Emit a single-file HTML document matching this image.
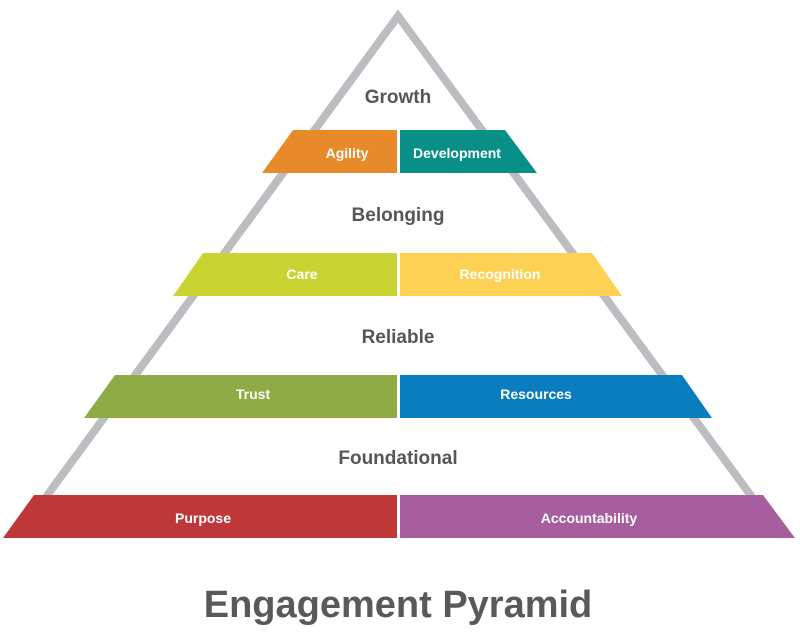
<!DOCTYPE html>
<html><head><meta charset="utf-8"><style>
html,body{margin:0;padding:0;background:#fff;width:800px;height:634px;overflow:hidden}
</style></head><body>
<svg width="800" height="634" viewBox="0 0 800 634" xmlns="http://www.w3.org/2000/svg" font-family="Liberation Sans, sans-serif" font-weight="bold">
<polyline points="46,497 398,16 752,497" fill="none" stroke="#bcbdc0" stroke-width="8" stroke-linejoin="miter"/>
<polygon points="293,130 397,130 397,173 262,173" fill="#e98a2a"/>
<polygon points="400,130 505,130 537,173 400,173" fill="#078f88"/>
<polygon points="203,253 397,253 397,296 173,296" fill="#c9d332"/>
<polygon points="400,253 592,253 622,296 400,296" fill="#fdd154"/>
<polygon points="115,375 397,375 397,418 84,418" fill="#8fab46"/>
<polygon points="400,375 682,375 712,418 400,418" fill="#0a7dbe"/>
<polygon points="34,495 397,495 397,538 3,538" fill="#be3739"/>
<polygon points="400,495 763,495 795,538 400,538" fill="#a65e9e"/>
<g fill="#fff" font-size="14" text-anchor="middle">
<text x="347" y="158">Agility</text>
<text x="457" y="158">Development</text>
<text x="302" y="279">Care</text>
<text x="500" y="279">Recognition</text>
<text x="253" y="399">Trust</text>
<text x="536" y="399">Resources</text>
<text x="203" y="523">Purpose</text>
<text x="589" y="523">Accountability</text>
</g>
<g fill="#555659" font-size="19" text-anchor="middle">
<text x="398" y="103">Growth</text>
<text x="398" y="221">Belonging</text>
<text x="398" y="343">Reliable</text>
<text x="398" y="464">Foundational</text>
</g>
<text x="398" y="617" fill="#58595b" font-size="38" text-anchor="middle">Engagement Pyramid</text>
</svg>
</body></html>
